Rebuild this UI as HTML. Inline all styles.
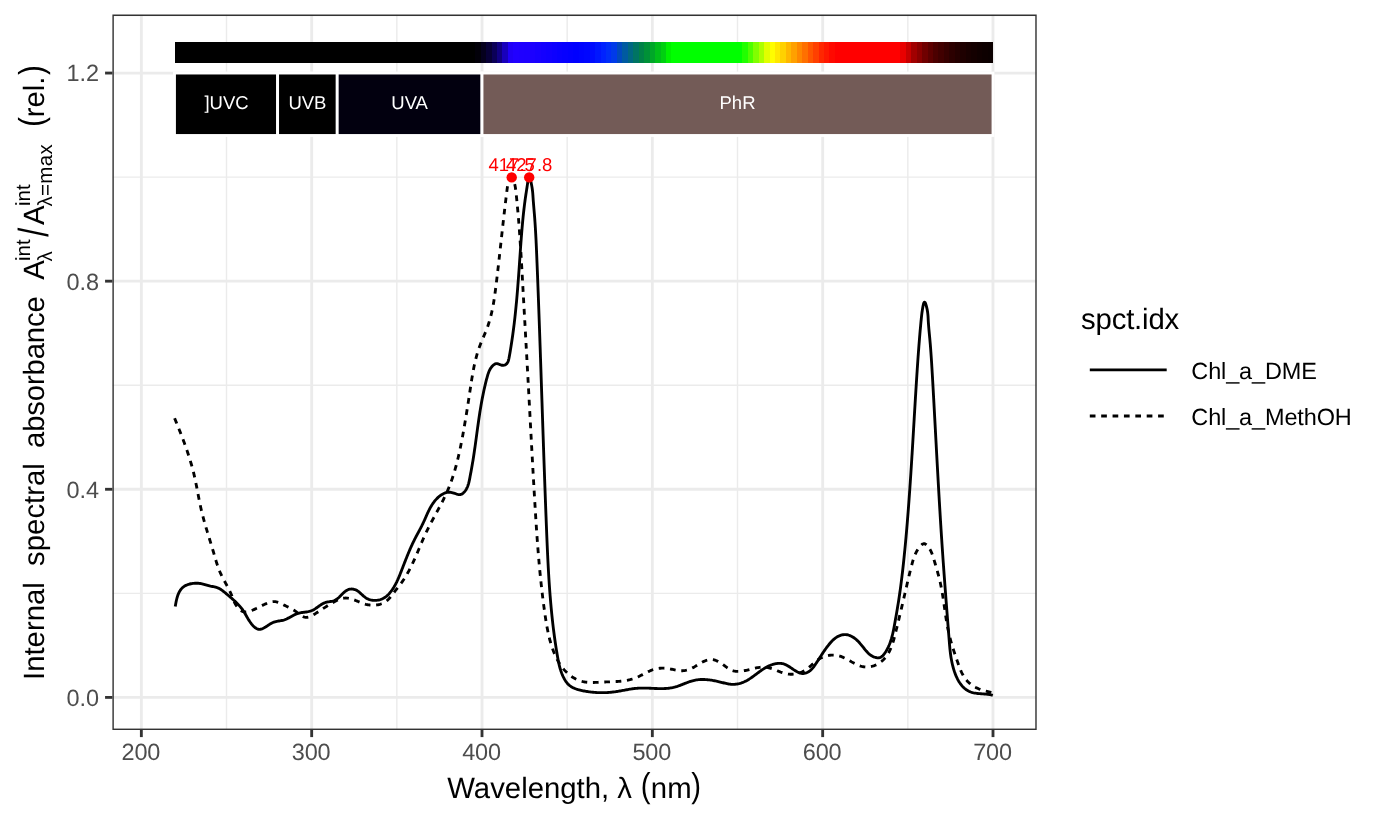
<!DOCTYPE html>
<html lang="en"><head><meta charset="utf-8"><title>Internal spectral absorbance</title>
<style>
html,body{margin:0;padding:0;background:#fff;}
body{width:1382px;height:825px;overflow:hidden;}
svg{display:block;font-family:"Liberation Sans",Arial,Helvetica,sans-serif;}
text{white-space:pre;text-rendering:geometricPrecision;}
.ax{font-size:23.47px;fill:#4D4D4D;}
.ti{font-size:29.33px;fill:#000;}
.lg{font-size:23.47px;fill:#000;}
.wb{font-size:18.5px;fill:#fff;text-anchor:middle;}
.pk{font-size:18.5px;fill:#f00;text-anchor:middle;}
.ss{font-size:20.5px;}
</style></head><body>
<svg width="1382" height="825" viewBox="0 0 1382 825">
<rect width="1382" height="825" fill="#fff"/>
<defs><clipPath id="pc"><rect x="112.4" y="14.6" width="924.3" height="715.4"/></clipPath></defs>
<g clip-path="url(#pc)">
<g stroke="#EBEBEB" stroke-width="1.43" fill="none">
<line x1="112.4" x2="1036.7" y1="593.34" y2="593.34"/>
<line x1="112.4" x2="1036.7" y1="385.22" y2="385.22"/>
<line x1="112.4" x2="1036.7" y1="177.11" y2="177.11"/>
<line x1="226.51" x2="226.51" y1="14.6" y2="730"/>
<line x1="396.85" x2="396.85" y1="14.6" y2="730"/>
<line x1="567.17" x2="567.17" y1="14.6" y2="730"/>
<line x1="737.5" x2="737.5" y1="14.6" y2="730"/>
<line x1="907.84" x2="907.84" y1="14.6" y2="730"/>
</g>
<g stroke="#EBEBEB" stroke-width="2.85" fill="none">
<line x1="112.4" x2="1036.7" y1="697.4" y2="697.4"/>
<line x1="112.4" x2="1036.7" y1="489.28" y2="489.28"/>
<line x1="112.4" x2="1036.7" y1="281.17" y2="281.17"/>
<line x1="112.4" x2="1036.7" y1="73.05" y2="73.05"/>
<line x1="141.35" x2="141.35" y1="14.6" y2="730"/>
<line x1="311.68" x2="311.68" y1="14.6" y2="730"/>
<line x1="482.01" x2="482.01" y1="14.6" y2="730"/>
<line x1="652.34" x2="652.34" y1="14.6" y2="730"/>
<line x1="822.67" x2="822.67" y1="14.6" y2="730"/>
<line x1="993" x2="993" y1="14.6" y2="730"/>
</g>
<g fill="none" stroke="#000" stroke-width="2.85" stroke-linejoin="round">
<path d="M175.23 606.61L175.39 605.68L175.56 604.72L175.73 603.75L175.92 602.76L176.11 601.77L176.32 600.77L176.55 599.76L176.79 598.76L177.05 597.77L177.34 596.78L177.65 595.81L177.99 594.85L178.37 593.91L178.77 592.99L179.21 592.1L179.68 591.24L180.2 590.41L180.76 589.62L181.36 588.87L182.01 588.16L182.71 587.51L183.46 586.9L184.26 586.34L185.1 585.83L185.98 585.37L186.89 584.96L187.83 584.59L188.8 584.27L189.8 583.99L190.81 583.75L191.84 583.56L192.87 583.41L193.92 583.31L194.96 583.24L196.01 583.21L197.05 583.22L198.08 583.27L199.1 583.36L200.1 583.48L201.08 583.64L202.04 583.83L202.98 584.04L203.92 584.28L204.84 584.53L205.77 584.79L206.69 585.06L207.62 585.33L208.56 585.59L209.51 585.85L210.47 586.09L211.46 586.31L212.46 586.51L213.48 586.71L214.49 586.92L215.49 587.16L216.47 587.44L217.41 587.77L218.33 588.15L219.21 588.58L220.08 589.05L220.92 589.56L221.74 590.1L222.54 590.67L223.33 591.27L224.11 591.89L224.88 592.52L225.65 593.17L226.42 593.82L227.18 594.47L227.95 595.13L228.72 595.79L229.49 596.44L230.26 597.1L231.03 597.76L231.79 598.43L232.55 599.09L233.31 599.77L234.06 600.44L234.8 601.12L235.53 601.81L236.26 602.51L236.97 603.21L237.67 603.91L238.36 604.63L239.04 605.36L239.7 606.09L240.34 606.84L240.96 607.59L241.57 608.36L242.16 609.13L242.73 609.92L243.27 610.73L243.8 611.54L244.31 612.37L244.81 613.21L245.31 614.07L245.8 614.93L246.3 615.81L246.81 616.7L247.33 617.6L247.86 618.51L248.42 619.44L249.01 620.37L249.62 621.31L250.26 622.25L250.92 623.17L251.61 624.06L252.32 624.92L253.05 625.74L253.79 626.49L254.56 627.18L255.34 627.79L256.13 628.31L256.94 628.74L257.76 629.05L258.59 629.25L259.43 629.31L260.27 629.26L261.12 629.09L261.98 628.82L262.85 628.46L263.73 628.03L264.61 627.54L265.51 627L266.41 626.43L267.32 625.83L268.24 625.23L269.16 624.63L270.1 624.05L271.04 623.49L272 622.98L272.96 622.53L273.93 622.14L274.91 621.83L275.9 621.57L276.88 621.36L277.87 621.18L278.86 621.01L279.85 620.86L280.83 620.7L281.8 620.52L282.76 620.32L283.71 620.06L284.64 619.76L285.56 619.41L286.47 619.02L287.37 618.6L288.27 618.14L289.16 617.67L290.04 617.19L290.93 616.69L291.82 616.2L292.71 615.71L293.6 615.24L294.5 614.78L295.41 614.36L296.34 613.96L297.27 613.61L298.22 613.3L299.19 613.04L300.16 612.82L301.15 612.65L302.15 612.49L303.16 612.36L304.16 612.23L305.16 612.11L306.16 611.98L307.16 611.83L308.14 611.66L309.12 611.45L310.07 611.2L311.01 610.9L311.93 610.54L312.82 610.13L313.7 609.66L314.57 609.16L315.42 608.62L316.27 608.05L317.11 607.47L317.94 606.88L318.78 606.29L319.62 605.7L320.46 605.12L321.31 604.57L322.17 604.05L323.04 603.57L323.94 603.13L324.85 602.74L325.78 602.42L326.73 602.16L327.71 601.95L328.69 601.78L329.68 601.63L330.67 601.47L331.65 601.3L332.61 601.09L333.55 600.82L334.47 600.48L335.34 600.06L336.19 599.56L337 598.99L337.8 598.37L338.57 597.7L339.33 596.99L340.08 596.25L340.82 595.5L341.56 594.75L342.3 593.99L343.05 593.26L343.81 592.55L344.58 591.88L345.38 591.25L346.19 590.68L347.03 590.18L347.91 589.75L348.82 589.42L349.77 589.18L350.76 589.05L351.77 589.02L352.79 589.09L353.79 589.26L354.76 589.53L355.68 589.88L356.56 590.31L357.41 590.82L358.22 591.38L359.02 591.99L359.79 592.64L360.55 593.32L361.3 594.01L362.05 594.71L362.81 595.41L363.57 596.09L364.35 596.74L365.15 597.36L365.98 597.93L366.84 598.45L367.73 598.9L368.65 599.29L369.6 599.63L370.57 599.9L371.55 600.12L372.55 600.27L373.57 600.37L374.58 600.41L375.6 600.4L376.62 600.33L377.63 600.2L378.64 600.02L379.63 599.79L380.61 599.5L381.56 599.16L382.49 598.77L383.4 598.32L384.27 597.83L385.11 597.29L385.92 596.7L386.7 596.07L387.45 595.4L388.17 594.71L388.87 593.98L389.54 593.23L390.19 592.45L390.82 591.66L391.42 590.86L392.01 590.05L392.58 589.22L393.13 588.39L393.66 587.54L394.17 586.68L394.67 585.82L395.16 584.95L395.63 584.07L396.09 583.18L396.54 582.29L396.97 581.38L397.4 580.48L397.82 579.57L398.22 578.65L398.62 577.73L399.01 576.81L399.4 575.88L399.78 574.95L400.15 574.02L400.52 573.08L400.89 572.15L401.26 571.21L401.62 570.28L401.99 569.34L402.35 568.41L402.71 567.47L403.07 566.54L403.43 565.61L403.79 564.67L404.16 563.74L404.52 562.81L404.88 561.88L405.25 560.94L405.61 560.01L405.98 559.08L406.35 558.16L406.72 557.23L407.09 556.3L407.46 555.38L407.84 554.45L408.22 553.53L408.6 552.61L408.99 551.69L409.38 550.77L409.77 549.85L410.17 548.93L410.57 548.02L410.97 547.1L411.38 546.19L411.8 545.28L412.22 544.38L412.64 543.47L413.07 542.56L413.51 541.66L413.95 540.76L414.4 539.86L414.85 538.97L415.31 538.08L415.78 537.18L416.25 536.29L416.72 535.4L417.19 534.51L417.67 533.63L418.15 532.74L418.62 531.85L419.1 530.96L419.57 530.07L420.04 529.19L420.51 528.3L420.97 527.4L421.43 526.51L421.89 525.62L422.33 524.72L422.77 523.82L423.2 522.92L423.62 522.02L424.04 521.11L424.44 520.2L424.85 519.3L425.25 518.39L425.65 517.48L426.05 516.57L426.45 515.66L426.85 514.76L427.25 513.86L427.67 512.96L428.08 512.06L428.51 511.17L428.95 510.28L429.4 509.39L429.86 508.51L430.33 507.64L430.82 506.78L431.33 505.92L431.85 505.07L432.4 504.23L432.96 503.39L433.55 502.57L434.16 501.75L434.8 500.95L435.46 500.16L436.16 499.38L436.87 498.62L437.61 497.88L438.38 497.16L439.17 496.48L439.97 495.83L440.8 495.22L441.65 494.66L442.51 494.14L443.39 493.68L444.28 493.27L445.19 492.93L446.11 492.65L447.04 492.44L447.98 492.3L448.92 492.25L449.88 492.27L450.84 492.38L451.81 492.56L452.78 492.79L453.77 493.07L454.77 493.39L455.78 493.73L456.79 494.06L457.8 494.36L458.8 494.56L459.78 494.62L460.72 494.5L461.61 494.18L462.46 493.68L463.25 493.06L463.98 492.35L464.65 491.59L465.27 490.81L465.83 489.99L466.35 489.14L466.81 488.27L467.23 487.37L467.62 486.45L467.96 485.51L468.28 484.56L468.57 483.59L468.83 482.6L469.07 481.61L469.29 480.62L469.5 479.61L469.7 478.61L469.89 477.61L470.08 476.6L470.26 475.61L470.45 474.61L470.63 473.62L470.82 472.64L471 471.65L471.18 470.67L471.36 469.69L471.53 468.71L471.71 467.73L471.88 466.75L472.06 465.78L472.23 464.8L472.39 463.83L472.56 462.85L472.72 461.87L472.89 460.89L473.05 459.91L473.2 458.93L473.36 457.95L473.52 456.97L473.67 455.98L473.82 455L473.97 454.01L474.12 453.02L474.26 452.03L474.41 451.04L474.55 450.05L474.7 449.06L474.84 448.07L474.98 447.08L475.12 446.08L475.26 445.09L475.4 444.1L475.54 443.1L475.67 442.11L475.81 441.11L475.94 440.11L476.08 439.12L476.22 438.12L476.35 437.13L476.49 436.13L476.62 435.13L476.75 434.14L476.89 433.14L477.02 432.15L477.16 431.15L477.3 430.15L477.43 429.16L477.57 428.16L477.7 427.17L477.84 426.18L477.98 425.18L478.12 424.19L478.26 423.2L478.4 422.21L478.54 421.22L478.68 420.23L478.83 419.24L478.97 418.25L479.12 417.26L479.27 416.27L479.42 415.29L479.57 414.3L479.72 413.32L479.87 412.33L480.03 411.35L480.19 410.37L480.35 409.39L480.51 408.4L480.67 407.42L480.84 406.44L481 405.46L481.17 404.48L481.35 403.5L481.52 402.52L481.7 401.54L481.88 400.56L482.06 399.58L482.25 398.6L482.44 397.62L482.63 396.64L482.82 395.66L483.02 394.69L483.22 393.71L483.42 392.73L483.63 391.75L483.84 390.77L484.05 389.79L484.27 388.81L484.49 387.83L484.71 386.85L484.94 385.87L485.17 384.89L485.4 383.91L485.64 382.92L485.89 381.94L486.13 380.96L486.38 379.97L486.64 378.99L486.9 378.01L487.16 377.02L487.44 376.04L487.72 375.06L488.03 374.1L488.35 373.14L488.7 372.2L489.08 371.27L489.49 370.37L489.94 369.49L490.43 368.63L490.97 367.81L491.55 367.02L492.2 366.26L492.9 365.54L493.65 364.88L494.47 364.3L495.33 363.86L496.22 363.62L497.14 363.61L498.09 363.84L499.06 364.22L500.06 364.65L501.08 365.03L502.14 365.26L503.2 365.29L504.2 365.16L505.1 364.88L505.87 364.47L506.53 363.95L507.1 363.31L507.57 362.59L507.97 361.78L508.3 360.91L508.58 359.98L508.82 359.01L509.03 358.01L509.22 357L509.4 355.98L509.58 354.96L509.76 353.94L509.94 352.93L510.11 351.91L510.28 350.9L510.45 349.88L510.62 348.87L510.79 347.86L510.95 346.85L511.11 345.84L511.27 344.83L511.42 343.82L511.58 342.82L511.73 341.81L511.88 340.81L512.03 339.8L512.18 338.8L512.32 337.79L512.47 336.79L512.61 335.79L512.75 334.79L512.89 333.79L513.02 332.79L513.16 331.79L513.29 330.79L513.42 329.79L513.55 328.8L513.67 327.8L513.8 326.8L513.92 325.81L514.05 324.81L514.17 323.82L514.29 322.82L514.4 321.83L514.52 320.83L514.63 319.84L514.75 318.85L514.86 317.86L514.97 316.86L515.08 315.87L515.19 314.88L515.29 313.89L515.4 312.9L515.5 311.91L515.6 310.92L515.7 309.93L515.8 308.94L515.9 307.95L516 306.96L516.1 305.97L516.19 304.98L516.28 303.99L516.38 303L516.47 302.01L516.56 301.02L516.65 300.03L516.74 299.04L516.83 298.06L516.91 297.07L517 296.08L517.09 295.09L517.17 294.1L517.25 293.11L517.34 292.12L517.42 291.13L517.5 290.14L517.58 289.15L517.66 288.16L517.74 287.17L517.82 286.18L517.89 285.19L517.97 284.2L518.05 283.21L518.12 282.22L518.2 281.23L518.27 280.23L518.35 279.24L518.42 278.25L518.49 277.26L518.57 276.26L518.64 275.27L518.71 274.27L518.78 273.28L518.85 272.28L518.93 271.29L519 270.29L519.07 269.3L519.14 268.3L519.21 267.3L519.28 266.3L519.35 265.3L519.42 264.3L519.48 263.3L519.55 262.3L519.62 261.3L519.69 260.3L519.76 259.3L519.83 258.29L519.9 257.29L519.97 256.28L520.04 255.28L520.11 254.27L520.18 253.26L520.25 252.26L520.32 251.25L520.39 250.24L520.46 249.24L520.53 248.23L520.6 247.22L520.67 246.21L520.74 245.2L520.82 244.2L520.89 243.19L520.96 242.18L521.04 241.17L521.11 240.16L521.19 239.16L521.26 238.15L521.34 237.14L521.42 236.14L521.5 235.13L521.58 234.12L521.66 233.12L521.74 232.11L521.82 231.11L521.91 230.11L521.99 229.1L522.07 228.1L522.16 227.1L522.25 226.1L522.34 225.1L522.43 224.1L522.52 223.1L522.61 222.11L522.7 221.11L522.8 220.12L522.9 219.12L522.99 218.13L523.09 217.14L523.19 216.15L523.3 215.16L523.4 214.17L523.51 213.19L523.61 212.2L523.72 211.22L523.83 210.24L523.94 209.26L524.06 208.28L524.17 207.31L524.29 206.33L524.41 205.36L524.53 204.39L524.65 203.42L524.78 202.45L524.91 201.49L525.03 200.53L525.17 199.56L525.3 198.61L525.43 197.65L525.57 196.69L525.71 195.74L525.85 194.79L526 193.84L526.15 192.88L526.3 191.9L526.45 190.9L526.61 189.87L526.77 188.81L526.94 187.71L527.12 186.56L527.29 185.36L527.48 184.11L527.67 182.82L527.87 181.56L528.08 180.38L528.31 179.33L528.55 178.48L528.8 177.87L529.07 177.57L529.37 177.62L529.67 178.01L529.99 178.68L530.31 179.59L530.63 180.68L530.93 181.9L531.23 183.18L531.5 184.48L531.74 185.73L531.95 186.93L532.13 188.07L532.29 189.17L532.43 190.22L532.55 191.23L532.65 192.21L532.74 193.17L532.82 194.1L532.89 195.02L532.95 195.93L533.01 196.84L533.07 197.75L533.13 198.67L533.19 199.59L533.26 200.53L533.33 201.48L533.41 202.44L533.49 203.41L533.56 204.38L533.65 205.36L533.73 206.35L533.81 207.34L533.9 208.34L533.98 209.35L534.06 210.35L534.15 211.36L534.23 212.37L534.32 213.39L534.4 214.4L534.48 215.41L534.56 216.43L534.64 217.44L534.72 218.45L534.79 219.46L534.86 220.47L534.93 221.48L535.01 222.49L535.07 223.5L535.14 224.51L535.21 225.52L535.27 226.52L535.34 227.53L535.4 228.54L535.46 229.54L535.52 230.55L535.58 231.55L535.63 232.56L535.69 233.56L535.75 234.56L535.8 235.57L535.85 236.57L535.91 237.57L535.96 238.57L536.01 239.58L536.06 240.58L536.11 241.58L536.15 242.58L536.2 243.58L536.25 244.58L536.29 245.58L536.34 246.58L536.38 247.58L536.43 248.58L536.47 249.58L536.52 250.58L536.56 251.58L536.6 252.58L536.64 253.58L536.69 254.58L536.73 255.57L536.77 256.57L536.81 257.57L536.85 258.57L536.89 259.57L536.93 260.57L536.97 261.57L537.01 262.57L537.05 263.56L537.09 264.56L537.13 265.56L537.17 266.56L537.21 267.56L537.25 268.56L537.29 269.56L537.33 270.56L537.37 271.55L537.41 272.55L537.45 273.55L537.49 274.55L537.53 275.55L537.57 276.55L537.61 277.55L537.64 278.55L537.68 279.55L537.72 280.54L537.76 281.54L537.8 282.54L537.84 283.54L537.87 284.54L537.91 285.54L537.95 286.54L537.99 287.54L538.03 288.54L538.06 289.54L538.1 290.54L538.14 291.53L538.18 292.53L538.22 293.53L538.25 294.53L538.29 295.53L538.33 296.53L538.36 297.53L538.4 298.53L538.44 299.53L538.48 300.53L538.51 301.53L538.55 302.53L538.59 303.53L538.62 304.52L538.66 305.52L538.7 306.52L538.73 307.52L538.77 308.52L538.81 309.52L538.84 310.52L538.88 311.52L538.91 312.52L538.95 313.52L538.99 314.52L539.02 315.52L539.06 316.52L539.09 317.52L539.13 318.52L539.17 319.52L539.2 320.52L539.24 321.51L539.27 322.51L539.31 323.51L539.34 324.51L539.38 325.51L539.42 326.51L539.45 327.51L539.49 328.51L539.52 329.51L539.56 330.51L539.59 331.51L539.63 332.51L539.66 333.51L539.7 334.51L539.73 335.51L539.77 336.51L539.8 337.51L539.84 338.51L539.87 339.51L539.9 340.51L539.94 341.51L539.97 342.51L540.01 343.51L540.04 344.51L540.08 345.51L540.11 346.51L540.15 347.51L540.18 348.51L540.22 349.51L540.25 350.51L540.28 351.5L540.32 352.5L540.35 353.5L540.39 354.5L540.42 355.5L540.45 356.5L540.49 357.5L540.52 358.5L540.56 359.5L540.59 360.5L540.62 361.5L540.66 362.5L540.69 363.5L540.73 364.5L540.76 365.5L540.79 366.5L540.83 367.5L540.86 368.5L540.9 369.5L540.93 370.5L540.96 371.5L541 372.5L541.03 373.5L541.06 374.5L541.1 375.5L541.13 376.5L541.16 377.5L541.2 378.5L541.23 379.5L541.27 380.5L541.3 381.5L541.33 382.5L541.37 383.5L541.4 384.5L541.43 385.5L541.47 386.5L541.5 387.5L541.53 388.5L541.57 389.5L541.6 390.5L541.63 391.5L541.67 392.5L541.7 393.5L541.73 394.5L541.77 395.5L541.8 396.5L541.83 397.5L541.87 398.5L541.9 399.5L541.93 400.5L541.97 401.51L542 402.51L542.04 403.51L542.07 404.51L542.1 405.51L542.14 406.51L542.17 407.51L542.2 408.51L542.24 409.51L542.27 410.51L542.3 411.51L542.34 412.51L542.37 413.51L542.4 414.51L542.44 415.51L542.47 416.51L542.5 417.51L542.54 418.51L542.57 419.51L542.61 420.51L542.64 421.51L542.67 422.51L542.71 423.51L542.74 424.51L542.77 425.51L542.81 426.51L542.84 427.51L542.88 428.51L542.91 429.51L542.94 430.51L542.98 431.51L543.01 432.51L543.04 433.51L543.08 434.51L543.11 435.51L543.15 436.51L543.18 437.51L543.21 438.51L543.25 439.51L543.28 440.51L543.32 441.52L543.35 442.52L543.39 443.52L543.42 444.52L543.45 445.52L543.49 446.52L543.52 447.52L543.56 448.52L543.59 449.52L543.63 450.52L543.66 451.52L543.7 452.52L543.73 453.52L543.76 454.52L543.8 455.52L543.83 456.52L543.87 457.52L543.9 458.52L543.94 459.52L543.97 460.52L544.01 461.52L544.04 462.52L544.08 463.52L544.11 464.52L544.15 465.52L544.18 466.52L544.22 467.52L544.25 468.52L544.29 469.52L544.33 470.53L544.36 471.53L544.4 472.53L544.43 473.53L544.47 474.53L544.5 475.53L544.54 476.53L544.58 477.53L544.61 478.53L544.65 479.53L544.68 480.53L544.72 481.53L544.76 482.53L544.79 483.53L544.83 484.53L544.86 485.53L544.9 486.53L544.94 487.53L544.97 488.53L545.01 489.53L545.05 490.53L545.08 491.53L545.12 492.53L545.16 493.53L545.19 494.53L545.23 495.53L545.27 496.53L545.31 497.54L545.34 498.54L545.38 499.54L545.42 500.54L545.46 501.54L545.49 502.54L545.53 503.54L545.57 504.54L545.61 505.54L545.64 506.54L545.68 507.54L545.72 508.54L545.76 509.54L545.8 510.54L545.83 511.54L545.87 512.54L545.91 513.54L545.95 514.54L545.99 515.54L546.03 516.54L546.07 517.54L546.11 518.54L546.14 519.54L546.18 520.54L546.22 521.54L546.26 522.54L546.3 523.54L546.34 524.54L546.38 525.54L546.42 526.54L546.46 527.54L546.5 528.55L546.54 529.55L546.58 530.55L546.62 531.55L546.66 532.55L546.7 533.55L546.74 534.55L546.78 535.55L546.82 536.55L546.86 537.55L546.91 538.55L546.95 539.55L546.99 540.55L547.03 541.55L547.07 542.55L547.12 543.55L547.16 544.55L547.2 545.55L547.25 546.55L547.29 547.55L547.34 548.55L547.38 549.55L547.43 550.55L547.47 551.55L547.52 552.55L547.56 553.55L547.61 554.55L547.66 555.55L547.71 556.55L547.75 557.55L547.8 558.55L547.85 559.55L547.9 560.54L547.95 561.54L548 562.54L548.06 563.54L548.11 564.54L548.16 565.54L548.21 566.54L548.27 567.54L548.32 568.54L548.38 569.54L548.44 570.54L548.49 571.53L548.55 572.53L548.61 573.53L548.67 574.53L548.73 575.53L548.79 576.53L548.85 577.53L548.91 578.52L548.97 579.52L549.04 580.52L549.1 581.52L549.17 582.52L549.23 583.52L549.3 584.51L549.37 585.51L549.44 586.51L549.51 587.51L549.58 588.5L549.65 589.5L549.72 590.5L549.8 591.5L549.87 592.49L549.95 593.49L550.03 594.49L550.1 595.48L550.18 596.48L550.26 597.48L550.35 598.47L550.43 599.47L550.51 600.47L550.6 601.46L550.68 602.46L550.77 603.45L550.86 604.45L550.95 605.45L551.04 606.44L551.13 607.44L551.22 608.43L551.32 609.43L551.41 610.42L551.51 611.42L551.61 612.41L551.7 613.41L551.81 614.4L551.91 615.4L552.01 616.39L552.12 617.38L552.22 618.38L552.33 619.37L552.44 620.37L552.55 621.36L552.66 622.35L552.77 623.35L552.89 624.34L553 625.33L553.12 626.33L553.24 627.32L553.36 628.31L553.48 629.3L553.61 630.3L553.73 631.29L553.86 632.28L553.99 633.27L554.12 634.26L554.25 635.26L554.38 636.25L554.52 637.24L554.66 638.23L554.79 639.22L554.94 640.21L555.08 641.2L555.22 642.19L555.37 643.18L555.51 644.17L555.66 645.16L555.81 646.15L555.97 647.14L556.12 648.13L556.28 649.12L556.43 650.11L556.59 651.1L556.76 652.09L556.92 653.07L557.08 654.06L557.25 655.05L557.42 656.04L557.59 657.03L557.77 658.01L557.95 659L558.13 659.98L558.33 660.97L558.53 661.95L558.73 662.93L558.95 663.9L559.17 664.88L559.41 665.85L559.66 666.82L559.92 667.78L560.2 668.74L560.49 669.7L560.79 670.66L561.12 671.61L561.45 672.55L561.81 673.49L562.19 674.42L562.59 675.35L563 676.27L563.44 677.19L563.91 678.1L564.39 679L564.91 679.89L565.45 680.76L566.01 681.61L566.61 682.42L567.24 683.2L567.91 683.94L568.61 684.64L569.34 685.28L570.11 685.88L570.9 686.44L571.73 686.95L572.58 687.43L573.46 687.87L574.36 688.28L575.28 688.65L576.22 689L577.17 689.31L578.13 689.61L579.11 689.88L580.09 690.13L581.08 690.37L582.07 690.59L583.07 690.79L584.07 690.99L585.06 691.18L586.06 691.35L587.06 691.52L588.06 691.67L589.06 691.81L590.05 691.95L591.05 692.07L592.05 692.18L593.05 692.28L594.05 692.37L595.05 692.45L596.05 692.51L597.04 692.57L598.04 692.62L599.04 692.65L600.04 692.68L601.04 692.69L602.03 692.7L603.03 692.69L604.03 692.67L605.02 692.64L606.02 692.61L607.01 692.56L608.01 692.5L609 692.43L610 692.35L610.99 692.26L611.98 692.15L612.97 692.04L613.96 691.92L614.95 691.79L615.94 691.64L616.93 691.49L617.91 691.33L618.9 691.17L619.89 691L620.87 690.82L621.86 690.64L622.84 690.46L623.83 690.28L624.81 690.09L625.8 689.91L626.79 689.73L627.77 689.56L628.76 689.39L629.75 689.22L630.74 689.06L631.73 688.91L632.72 688.77L633.71 688.64L634.7 688.52L635.7 688.41L636.69 688.32L637.69 688.24L638.69 688.18L639.69 688.13L640.69 688.09L641.7 688.07L642.7 688.06L643.71 688.07L644.71 688.08L645.72 688.1L646.73 688.12L647.73 688.16L648.74 688.2L649.75 688.24L650.76 688.28L651.77 688.33L652.77 688.38L653.78 688.42L654.79 688.47L655.79 688.51L656.8 688.54L657.8 688.57L658.8 688.6L659.8 688.62L660.8 688.62L661.8 688.62L662.79 688.61L663.78 688.58L664.77 688.54L665.76 688.49L666.75 688.42L667.73 688.33L668.71 688.23L669.68 688.11L670.66 687.96L671.63 687.8L672.59 687.61L673.56 687.4L674.51 687.16L675.47 686.9L676.42 686.61L677.37 686.31L678.32 685.98L679.26 685.65L680.2 685.3L681.14 684.94L682.08 684.57L683.03 684.2L683.97 683.82L684.91 683.45L685.85 683.08L686.79 682.71L687.74 682.36L688.69 682.01L689.64 681.68L690.6 681.36L691.55 681.06L692.52 680.79L693.49 680.53L694.46 680.31L695.44 680.11L696.42 679.94L697.41 679.8L698.41 679.68L699.4 679.59L700.4 679.53L701.4 679.49L702.41 679.47L703.42 679.48L704.42 679.51L705.43 679.55L706.44 679.62L707.44 679.71L708.45 679.81L709.45 679.93L710.45 680.06L711.45 680.21L712.44 680.38L713.43 680.55L714.41 680.74L715.39 680.94L716.37 681.15L717.34 681.37L718.31 681.59L719.28 681.82L720.25 682.05L721.21 682.29L722.17 682.53L723.14 682.76L724.1 683L725.07 683.23L726.03 683.45L727 683.66L727.97 683.85L728.95 684.02L729.93 684.16L730.92 684.26L731.92 684.33L732.92 684.36L733.93 684.34L734.95 684.28L735.98 684.17L737 684.02L738.03 683.83L739.04 683.6L740.04 683.33L741.02 683.03L741.99 682.7L742.93 682.34L743.86 681.96L744.76 681.55L745.66 681.11L746.54 680.66L747.4 680.18L748.25 679.68L749.09 679.17L749.92 678.64L750.74 678.09L751.56 677.54L752.37 676.97L753.17 676.4L753.97 675.81L754.76 675.22L755.56 674.63L756.35 674.03L757.15 673.44L757.94 672.84L758.74 672.25L759.55 671.66L760.36 671.07L761.17 670.5L762 669.93L762.83 669.37L763.67 668.83L764.53 668.29L765.4 667.78L766.28 667.28L767.18 666.8L768.09 666.34L769.02 665.9L769.97 665.49L770.93 665.1L771.9 664.75L772.88 664.43L773.87 664.14L774.87 663.9L775.86 663.69L776.86 663.54L777.85 663.43L778.84 663.37L779.82 663.36L780.79 663.41L781.75 663.53L782.7 663.7L783.62 663.94L784.53 664.25L785.43 664.61L786.31 665.02L787.18 665.47L788.05 665.96L788.91 666.49L789.76 667.03L790.61 667.6L791.46 668.18L792.31 668.76L793.17 669.34L794.03 669.92L794.91 670.48L795.79 671.02L796.68 671.54L797.59 672.02L798.5 672.45L799.43 672.82L800.38 673.13L801.33 673.35L802.29 673.48L803.26 673.5L804.24 673.41L805.21 673.21L806.18 672.91L807.13 672.52L808.05 672.05L808.93 671.51L809.76 670.92L810.54 670.28L811.28 669.6L811.98 668.88L812.64 668.12L813.27 667.35L813.88 666.55L814.47 665.73L815.05 664.91L815.61 664.07L816.18 663.24L816.74 662.4L817.29 661.57L817.84 660.72L818.38 659.88L818.93 659.04L819.47 658.2L820.01 657.35L820.55 656.51L821.09 655.67L821.63 654.83L822.18 653.99L822.73 653.15L823.28 652.32L823.83 651.49L824.39 650.66L824.96 649.84L825.53 649.03L826.11 648.21L826.7 647.41L827.3 646.61L827.91 645.81L828.53 645.03L829.16 644.25L829.8 643.48L830.45 642.72L831.12 641.97L831.81 641.23L832.51 640.52L833.24 639.83L833.99 639.17L834.77 638.53L835.57 637.93L836.41 637.36L837.28 636.83L838.18 636.35L839.11 635.92L840.06 635.53L841.03 635.21L842.01 634.95L843.01 634.76L844.01 634.64L845.01 634.6L846.01 634.65L847.01 634.77L847.99 634.97L848.96 635.25L849.92 635.59L850.86 635.98L851.77 636.43L852.65 636.93L853.51 637.46L854.34 638.03L855.14 638.64L855.91 639.27L856.66 639.93L857.39 640.62L858.1 641.33L858.8 642.06L859.48 642.81L860.14 643.57L860.8 644.34L861.44 645.12L862.08 645.9L862.71 646.69L863.35 647.47L863.98 648.26L864.61 649.04L865.24 649.81L865.88 650.57L866.53 651.31L867.19 652.04L867.86 652.75L868.55 653.43L869.26 654.09L870.01 654.71L870.8 655.3L871.64 655.85L872.54 656.35L873.52 656.8L874.56 657.19L875.64 657.5L876.73 657.71L877.81 657.81L878.85 657.76L879.82 657.57L880.71 657.22L881.52 656.73L882.27 656.14L882.97 655.45L883.62 654.7L884.23 653.9L884.82 653.08L885.38 652.25L885.92 651.41L886.43 650.55L886.93 649.69L887.4 648.81L887.85 647.93L888.29 647.03L888.7 646.13L889.1 645.22L889.48 644.3L889.84 643.37L890.19 642.44L890.52 641.5L890.84 640.55L891.14 639.59L891.44 638.63L891.71 637.67L891.98 636.7L892.24 635.72L892.48 634.74L892.72 633.76L892.94 632.78L893.16 631.79L893.37 630.8L893.58 629.8L893.77 628.81L893.97 627.81L894.16 626.82L894.34 625.82L894.52 624.82L894.7 623.83L894.88 622.83L895.05 621.84L895.23 620.84L895.4 619.85L895.57 618.86L895.75 617.88L895.92 616.89L896.09 615.9L896.26 614.92L896.44 613.93L896.61 612.95L896.77 611.97L896.94 610.99L897.11 610.01L897.28 609.03L897.44 608.05L897.6 607.07L897.77 606.09L897.93 605.1L898.09 604.12L898.24 603.14L898.4 602.16L898.56 601.18L898.71 600.2L898.86 599.21L899.01 598.23L899.16 597.24L899.31 596.26L899.45 595.27L899.6 594.29L899.74 593.3L899.88 592.31L900.02 591.32L900.16 590.33L900.3 589.34L900.43 588.35L900.56 587.36L900.7 586.37L900.83 585.38L900.96 584.39L901.09 583.4L901.22 582.41L901.34 581.41L901.47 580.42L901.59 579.43L901.71 578.43L901.84 577.44L901.96 576.44L902.08 575.45L902.19 574.45L902.31 573.46L902.43 572.46L902.54 571.47L902.66 570.47L902.77 569.47L902.88 568.48L902.99 567.48L903.1 566.48L903.21 565.48L903.32 564.49L903.43 563.49L903.53 562.49L903.64 561.49L903.75 560.5L903.85 559.5L903.95 558.5L904.06 557.5L904.16 556.5L904.26 555.51L904.36 554.51L904.46 553.51L904.56 552.51L904.66 551.51L904.76 550.52L904.85 549.52L904.95 548.52L905.05 547.52L905.14 546.52L905.24 545.53L905.33 544.53L905.42 543.53L905.52 542.53L905.61 541.53L905.7 540.54L905.79 539.54L905.89 538.54L905.98 537.54L906.07 536.55L906.15 535.55L906.24 534.55L906.33 533.55L906.42 532.56L906.51 531.56L906.59 530.56L906.68 529.56L906.77 528.57L906.85 527.57L906.93 526.57L907.02 525.58L907.1 524.58L907.19 523.58L907.27 522.58L907.35 521.59L907.43 520.59L907.51 519.59L907.59 518.6L907.67 517.6L907.75 516.6L907.83 515.6L907.91 514.61L907.99 513.61L908.07 512.61L908.15 511.62L908.22 510.62L908.3 509.62L908.38 508.63L908.45 507.63L908.53 506.63L908.6 505.63L908.68 504.64L908.75 503.64L908.83 502.64L908.9 501.65L908.98 500.65L909.05 499.65L909.12 498.66L909.19 497.66L909.26 496.66L909.34 495.67L909.41 494.67L909.48 493.67L909.55 492.67L909.62 491.68L909.69 490.68L909.76 489.68L909.83 488.69L909.9 487.69L909.96 486.69L910.03 485.7L910.1 484.7L910.17 483.7L910.24 482.71L910.3 481.71L910.37 480.71L910.44 479.71L910.5 478.72L910.57 477.72L910.63 476.72L910.7 475.73L910.77 474.73L910.83 473.73L910.9 472.74L910.96 471.74L911.02 470.74L911.09 469.74L911.15 468.75L911.22 467.75L911.28 466.75L911.34 465.76L911.41 464.76L911.47 463.76L911.53 462.76L911.59 461.77L911.66 460.77L911.72 459.77L911.78 458.77L911.84 457.78L911.9 456.78L911.96 455.78L912.03 454.78L912.09 453.79L912.15 452.79L912.21 451.79L912.27 450.79L912.33 449.8L912.39 448.8L912.45 447.8L912.51 446.8L912.57 445.8L912.63 444.81L912.69 443.81L912.75 442.81L912.81 441.81L912.87 440.82L912.93 439.82L912.99 438.82L913.05 437.82L913.11 436.82L913.17 435.82L913.23 434.83L913.29 433.83L913.35 432.83L913.41 431.83L913.47 430.83L913.53 429.83L913.58 428.83L913.64 427.84L913.7 426.84L913.76 425.84L913.82 424.84L913.88 423.84L913.94 422.84L914 421.84L914.06 420.84L914.12 419.84L914.18 418.85L914.23 417.85L914.29 416.85L914.35 415.85L914.41 414.85L914.47 413.85L914.53 412.85L914.59 411.85L914.65 410.85L914.71 409.85L914.77 408.85L914.83 407.85L914.89 406.85L914.95 405.85L915.01 404.85L915.07 403.85L915.13 402.85L915.19 401.85L915.25 400.85L915.31 399.85L915.37 398.85L915.43 397.85L915.49 396.85L915.55 395.85L915.62 394.85L915.68 393.84L915.74 392.84L915.8 391.84L915.86 390.84L915.92 389.84L915.99 388.84L916.05 387.84L916.11 386.84L916.17 385.83L916.24 384.83L916.3 383.83L916.36 382.83L916.43 381.83L916.49 380.83L916.56 379.82L916.62 378.82L916.68 377.82L916.75 376.82L916.81 375.81L916.88 374.81L916.94 373.81L917.01 372.81L917.08 371.8L917.14 370.8L917.21 369.8L917.27 368.79L917.34 367.79L917.41 366.79L917.48 365.79L917.54 364.78L917.61 363.78L917.68 362.78L917.75 361.78L917.82 360.77L917.89 359.77L917.96 358.77L918.03 357.77L918.1 356.77L918.17 355.77L918.25 354.77L918.32 353.77L918.39 352.77L918.46 351.77L918.54 350.77L918.61 349.78L918.69 348.78L918.76 347.78L918.84 346.79L918.91 345.79L918.99 344.8L919.07 343.81L919.15 342.81L919.23 341.82L919.31 340.83L919.39 339.84L919.47 338.85L919.55 337.86L919.63 336.87L919.71 335.89L919.8 334.9L919.88 333.92L919.96 332.93L920.05 331.95L920.13 330.97L920.22 329.99L920.31 329.01L920.4 328.03L920.49 327.05L920.58 326.08L920.67 325.1L920.76 324.13L920.85 323.16L920.94 322.19L921.04 321.22L921.13 320.25L921.23 319.28L921.32 318.32L921.42 317.35L921.53 316.37L921.64 315.38L921.76 314.38L921.88 313.35L922.02 312.31L922.18 311.23L922.34 310.13L922.52 308.99L922.72 307.81L922.94 306.59L923.18 305.37L923.44 304.24L923.72 303.26L924.02 302.53L924.35 302.12L924.7 302.11L925.06 302.5L925.44 303.23L925.81 304.21L926.17 305.35L926.5 306.58L926.8 307.82L927.06 309L927.28 310.14L927.47 311.24L927.62 312.29L927.75 313.31L927.86 314.31L927.95 315.27L928.02 316.22L928.08 317.16L928.13 318.09L928.18 319.01L928.22 319.93L928.27 320.86L928.33 321.8L928.39 322.74L928.45 323.7L928.52 324.66L928.6 325.63L928.68 326.61L928.76 327.59L928.85 328.58L928.94 329.58L929.03 330.58L929.12 331.58L929.22 332.58L929.31 333.59L929.41 334.6L929.5 335.61L929.6 336.63L929.69 337.64L929.79 338.65L929.88 339.66L929.97 340.67L930.05 341.68L930.14 342.69L930.23 343.7L930.31 344.71L930.39 345.71L930.47 346.72L930.55 347.72L930.63 348.73L930.71 349.73L930.78 350.74L930.85 351.74L930.93 352.74L931 353.75L931.07 354.75L931.14 355.75L931.21 356.75L931.28 357.75L931.35 358.75L931.41 359.75L931.48 360.75L931.54 361.75L931.61 362.75L931.67 363.75L931.73 364.74L931.79 365.74L931.85 366.74L931.91 367.74L931.97 368.73L932.03 369.73L932.09 370.73L932.15 371.73L932.21 372.72L932.27 373.72L932.33 374.72L932.38 375.71L932.44 376.71L932.5 377.71L932.55 378.7L932.61 379.7L932.67 380.7L932.72 381.69L932.78 382.69L932.84 383.69L932.89 384.68L932.95 385.68L933 386.68L933.06 387.68L933.12 388.67L933.17 389.67L933.23 390.67L933.28 391.66L933.34 392.66L933.39 393.66L933.45 394.66L933.51 395.65L933.56 396.65L933.62 397.65L933.67 398.65L933.73 399.65L933.78 400.64L933.84 401.64L933.89 402.64L933.95 403.64L934 404.64L934.05 405.63L934.11 406.63L934.16 407.63L934.22 408.63L934.27 409.63L934.33 410.62L934.38 411.62L934.44 412.62L934.49 413.62L934.54 414.62L934.6 415.62L934.65 416.61L934.71 417.61L934.76 418.61L934.82 419.61L934.87 420.61L934.92 421.61L934.98 422.61L935.03 423.61L935.09 424.6L935.14 425.6L935.19 426.6L935.25 427.6L935.3 428.6L935.36 429.6L935.41 430.6L935.46 431.6L935.52 432.6L935.57 433.59L935.63 434.59L935.68 435.59L935.73 436.59L935.79 437.59L935.84 438.59L935.89 439.59L935.95 440.59L936 441.59L936.06 442.59L936.11 443.59L936.17 444.59L936.22 445.58L936.27 446.58L936.33 447.58L936.38 448.58L936.44 449.58L936.49 450.58L936.54 451.58L936.6 452.58L936.65 453.58L936.71 454.58L936.76 455.58L936.82 456.58L936.87 457.58L936.93 458.58L936.98 459.58L937.04 460.58L937.09 461.58L937.14 462.58L937.2 463.58L937.25 464.57L937.31 465.57L937.36 466.57L937.42 467.57L937.48 468.57L937.53 469.57L937.59 470.57L937.64 471.57L937.7 472.57L937.75 473.57L937.81 474.57L937.86 475.57L937.92 476.57L937.98 477.57L938.03 478.57L938.09 479.57L938.14 480.57L938.2 481.57L938.26 482.57L938.31 483.57L938.37 484.57L938.43 485.57L938.48 486.57L938.54 487.57L938.6 488.57L938.66 489.57L938.71 490.57L938.77 491.56L938.83 492.56L938.89 493.56L938.94 494.56L939 495.56L939.06 496.56L939.12 497.56L939.18 498.56L939.23 499.56L939.29 500.56L939.35 501.56L939.41 502.56L939.47 503.56L939.53 504.56L939.59 505.56L939.65 506.56L939.71 507.56L939.77 508.56L939.83 509.56L939.89 510.56L939.95 511.55L940.01 512.55L940.07 513.55L940.13 514.55L940.19 515.55L940.25 516.55L940.31 517.55L940.37 518.55L940.43 519.55L940.49 520.55L940.56 521.55L940.62 522.55L940.68 523.54L940.74 524.54L940.81 525.54L940.87 526.54L940.93 527.54L940.99 528.54L941.06 529.54L941.12 530.54L941.18 531.54L941.25 532.54L941.31 533.53L941.38 534.53L941.44 535.53L941.51 536.53L941.57 537.53L941.64 538.53L941.7 539.53L941.77 540.52L941.83 541.52L941.9 542.52L941.96 543.52L942.03 544.52L942.1 545.52L942.16 546.52L942.23 547.51L942.3 548.51L942.37 549.51L942.43 550.51L942.5 551.51L942.57 552.5L942.64 553.5L942.71 554.5L942.78 555.5L942.85 556.5L942.91 557.49L942.98 558.49L943.05 559.49L943.12 560.49L943.19 561.49L943.26 562.48L943.34 563.48L943.41 564.48L943.48 565.48L943.55 566.47L943.62 567.47L943.69 568.47L943.76 569.47L943.83 570.46L943.91 571.46L943.98 572.46L944.05 573.46L944.12 574.45L944.2 575.45L944.27 576.45L944.34 577.45L944.42 578.44L944.49 579.44L944.56 580.44L944.64 581.44L944.71 582.43L944.79 583.43L944.86 584.43L944.93 585.43L945.01 586.42L945.08 587.42L945.16 588.42L945.23 589.42L945.31 590.41L945.38 591.41L945.46 592.41L945.54 593.41L945.61 594.4L945.69 595.4L945.76 596.4L945.84 597.4L945.92 598.39L945.99 599.39L946.07 600.39L946.14 601.39L946.22 602.38L946.3 603.38L946.38 604.38L946.45 605.38L946.53 606.37L946.61 607.37L946.68 608.37L946.76 609.37L946.84 610.36L946.92 611.36L946.99 612.36L947.07 613.36L947.15 614.35L947.23 615.35L947.31 616.35L947.38 617.35L947.46 618.35L947.54 619.34L947.62 620.34L947.7 621.34L947.78 622.34L947.85 623.34L947.93 624.33L948.01 625.33L948.09 626.33L948.17 627.33L948.25 628.33L948.33 629.33L948.41 630.32L948.49 631.32L948.57 632.32L948.64 633.32L948.72 634.32L948.8 635.32L948.88 636.32L948.96 637.31L949.04 638.31L949.12 639.31L949.2 640.31L949.28 641.31L949.36 642.31L949.44 643.31L949.52 644.3L949.61 645.3L949.7 646.3L949.79 647.29L949.88 648.29L949.98 649.28L950.09 650.27L950.19 651.26L950.31 652.25L950.43 653.24L950.56 654.23L950.69 655.21L950.83 656.19L950.98 657.17L951.14 658.15L951.31 659.12L951.48 660.1L951.67 661.07L951.86 662.04L952.07 663.02L952.29 663.99L952.52 664.96L952.76 665.94L953.02 666.91L953.28 667.88L953.56 668.86L953.86 669.84L954.17 670.81L954.49 671.79L954.84 672.76L955.19 673.73L955.56 674.69L955.95 675.65L956.36 676.59L956.79 677.53L957.23 678.45L957.69 679.36L958.17 680.25L958.67 681.13L959.2 681.99L959.74 682.82L960.3 683.64L960.89 684.44L961.5 685.21L962.13 685.95L962.78 686.67L963.46 687.36L964.17 688.02L964.89 688.64L965.65 689.24L966.43 689.8L967.23 690.32L968.06 690.8L968.92 691.24L969.81 691.65L970.73 692.01L971.67 692.32L972.64 692.6L973.64 692.84L974.65 693.04L975.68 693.21L976.73 693.36L977.78 693.48L978.85 693.59L979.92 693.68L980.99 693.76L982.06 693.83L983.12 693.91L984.17 693.98L985.22 694.05L986.25 694.14L987.26 694.24L988.25 694.35L989.22 694.48L990.16 694.64L991.07 694.83L991.95 695.05L992.79 695.3"/>
<path stroke-dasharray="5.69 5.69" d="M174.58 418.18L174.96 419.1L175.34 420.02L175.71 420.94L176.09 421.87L176.47 422.79L176.85 423.71L177.22 424.64L177.6 425.57L177.97 426.49L178.34 427.42L178.71 428.35L179.08 429.28L179.45 430.21L179.82 431.14L180.19 432.07L180.55 433L180.92 433.93L181.28 434.87L181.64 435.8L182 436.74L182.35 437.67L182.71 438.61L183.06 439.55L183.41 440.48L183.76 441.42L184.11 442.36L184.45 443.3L184.79 444.25L185.13 445.19L185.47 446.13L185.8 447.08L186.14 448.02L186.47 448.97L186.79 449.91L187.12 450.86L187.44 451.81L187.76 452.76L188.07 453.71L188.38 454.66L188.69 455.61L189 456.57L189.3 457.52L189.6 458.48L189.9 459.43L190.19 460.39L190.48 461.35L190.76 462.31L191.04 463.27L191.32 464.23L191.59 465.19L191.86 466.16L192.13 467.12L192.39 468.09L192.65 469.05L192.91 470.02L193.15 470.99L193.4 471.96L193.64 472.93L193.88 473.9L194.11 474.88L194.34 475.85L194.56 476.83L194.78 477.8L194.99 478.78L195.21 479.76L195.41 480.74L195.62 481.72L195.82 482.7L196.02 483.68L196.22 484.67L196.42 485.65L196.61 486.63L196.8 487.61L196.99 488.6L197.18 489.58L197.37 490.57L197.56 491.55L197.75 492.53L197.94 493.52L198.12 494.5L198.31 495.49L198.5 496.47L198.69 497.45L198.88 498.44L199.08 499.42L199.27 500.4L199.47 501.38L199.67 502.36L199.87 503.34L200.07 504.32L200.28 505.3L200.49 506.28L200.7 507.26L200.92 508.23L201.14 509.21L201.36 510.18L201.59 511.15L201.83 512.12L202.07 513.09L202.31 514.06L202.55 515.03L202.8 516L203.06 516.96L203.31 517.93L203.57 518.89L203.83 519.86L204.1 520.82L204.37 521.78L204.64 522.74L204.91 523.71L205.19 524.67L205.47 525.63L205.75 526.58L206.03 527.54L206.31 528.5L206.6 529.46L206.89 530.42L207.18 531.38L207.47 532.33L207.76 533.29L208.05 534.25L208.34 535.2L208.63 536.16L208.93 537.12L209.22 538.07L209.52 539.03L209.81 539.99L210.1 540.94L210.4 541.9L210.69 542.86L210.98 543.82L211.28 544.77L211.57 545.73L211.86 546.69L212.15 547.65L212.44 548.61L212.72 549.57L213.01 550.53L213.29 551.49L213.57 552.46L213.85 553.42L214.13 554.38L214.41 555.35L214.69 556.31L214.97 557.27L215.25 558.23L215.53 559.2L215.82 560.16L216.11 561.11L216.4 562.07L216.7 563.02L217.01 563.98L217.32 564.93L217.64 565.87L217.97 566.82L218.3 567.76L218.65 568.69L219.01 569.63L219.37 570.55L219.75 571.48L220.14 572.4L220.55 573.31L220.96 574.22L221.39 575.12L221.83 576.02L222.28 576.92L222.74 577.81L223.2 578.7L223.67 579.58L224.15 580.47L224.63 581.35L225.11 582.23L225.59 583.11L226.08 583.99L226.56 584.87L227.03 585.76L227.51 586.64L227.98 587.52L228.44 588.41L228.89 589.29L229.34 590.18L229.77 591.08L230.19 591.98L230.6 592.88L231 593.78L231.38 594.7L231.75 595.61L232.1 596.53L232.46 597.46L232.81 598.38L233.18 599.31L233.55 600.24L233.95 601.16L234.37 602.09L234.82 603.01L235.3 603.93L235.82 604.84L236.39 605.74L237 606.62L237.64 607.48L238.33 608.29L239.06 609.04L239.81 609.74L240.61 610.36L241.43 610.9L242.29 611.34L243.18 611.68L244.09 611.9L245.03 612.01L245.99 612.01L246.97 611.92L247.96 611.75L248.96 611.51L249.96 611.2L250.95 610.84L251.95 610.45L252.93 610.03L253.9 609.59L254.85 609.14L255.78 608.69L256.69 608.24L257.59 607.8L258.48 607.35L259.36 606.91L260.24 606.46L261.13 606.02L262.01 605.59L262.9 605.15L263.8 604.72L264.71 604.29L265.65 603.87L266.59 603.45L267.55 603.06L268.51 602.7L269.49 602.37L270.47 602.09L271.45 601.86L272.43 601.7L273.41 601.6L274.39 601.58L275.35 601.65L276.31 601.8L277.27 602.02L278.21 602.32L279.15 602.66L280.08 603.06L281.01 603.49L281.93 603.95L282.85 604.42L283.76 604.9L284.67 605.37L285.57 605.84L286.47 606.28L287.37 606.72L288.27 607.15L289.15 607.58L290.04 608.02L290.92 608.47L291.8 608.94L292.67 609.42L293.53 609.93L294.39 610.48L295.24 611.06L296.09 611.68L296.94 612.34L297.78 613L298.62 613.67L299.46 614.32L300.3 614.95L301.15 615.54L302.01 616.06L302.87 616.52L303.75 616.89L304.63 617.17L305.53 617.33L306.45 617.36L307.37 617.28L308.31 617.1L309.25 616.83L310.2 616.47L311.14 616.05L312.09 615.58L313.03 615.06L313.96 614.52L314.88 613.96L315.79 613.39L316.68 612.82L317.55 612.26L318.42 611.7L319.27 611.14L320.11 610.59L320.94 610.04L321.77 609.5L322.59 608.96L323.41 608.42L324.23 607.89L325.04 607.36L325.86 606.83L326.67 606.31L327.49 605.79L328.32 605.27L329.15 604.76L329.99 604.25L330.85 603.74L331.71 603.24L332.58 602.74L333.47 602.25L334.38 601.76L335.3 601.27L336.23 600.8L337.18 600.34L338.14 599.9L339.1 599.5L340.08 599.13L341.05 598.8L342.02 598.52L343 598.3L343.97 598.15L344.93 598.06L345.89 598.03L346.84 598.07L347.79 598.16L348.73 598.3L349.67 598.49L350.61 598.72L351.55 598.98L352.48 599.28L353.42 599.61L354.36 599.96L355.29 600.33L356.23 600.71L357.18 601.11L358.12 601.5L359.07 601.9L360.03 602.29L360.99 602.68L361.96 603.05L362.93 603.4L363.91 603.72L364.9 604.02L365.9 604.29L366.91 604.53L367.92 604.73L368.94 604.89L369.96 605.03L370.97 605.12L371.99 605.18L373.01 605.21L374.02 605.19L375.03 605.14L376.02 605.05L377.01 604.92L377.99 604.76L378.95 604.55L379.9 604.3L380.84 604.01L381.75 603.68L382.65 603.3L383.52 602.88L384.37 602.42L385.2 601.92L386 601.37L386.77 600.77L387.52 600.13L388.24 599.45L388.93 598.73L389.61 597.99L390.27 597.22L390.92 596.43L391.56 595.62L392.19 594.8L392.81 593.98L393.44 593.15L394.06 592.33L394.69 591.52L395.32 590.71L395.95 589.91L396.58 589.11L397.22 588.32L397.85 587.52L398.47 586.73L399.1 585.94L399.71 585.15L400.32 584.35L400.92 583.55L401.51 582.74L402.09 581.93L402.66 581.11L403.22 580.29L403.78 579.46L404.32 578.63L404.85 577.79L405.38 576.95L405.89 576.1L406.4 575.25L406.9 574.4L407.4 573.53L407.88 572.67L408.36 571.8L408.84 570.93L409.3 570.05L409.76 569.17L410.22 568.29L410.67 567.4L411.11 566.51L411.55 565.62L411.98 564.72L412.41 563.82L412.83 562.92L413.25 562.02L413.67 561.11L414.08 560.21L414.49 559.3L414.9 558.38L415.3 557.47L415.7 556.55L416.1 555.64L416.49 554.72L416.89 553.8L417.28 552.88L417.67 551.96L418.06 551.04L418.45 550.11L418.84 549.19L419.23 548.27L419.62 547.34L420.01 546.42L420.4 545.49L420.79 544.57L421.19 543.65L421.58 542.72L421.98 541.8L422.37 540.88L422.77 539.96L423.17 539.04L423.58 538.12L423.99 537.2L424.4 536.28L424.81 535.37L425.23 534.46L425.65 533.55L426.08 532.64L426.51 531.73L426.94 530.83L427.38 529.92L427.82 529.02L428.27 528.13L428.72 527.23L429.18 526.34L429.64 525.44L430.1 524.55L430.56 523.66L431.03 522.77L431.5 521.89L431.97 521L432.45 520.11L432.92 519.23L433.4 518.35L433.88 517.46L434.35 516.58L434.83 515.7L435.31 514.82L435.79 513.93L436.27 513.05L436.75 512.17L437.23 511.29L437.71 510.41L438.19 509.53L438.66 508.65L439.14 507.76L439.61 506.88L440.08 506L440.55 505.11L441.01 504.23L441.48 503.34L441.94 502.45L442.39 501.56L442.85 500.67L443.3 499.78L443.74 498.89L444.18 497.99L444.62 497.09L445.05 496.19L445.48 495.29L445.9 494.39L446.32 493.49L446.73 492.58L447.14 491.67L447.54 490.76L447.93 489.84L448.32 488.92L448.7 488L449.07 487.08L449.44 486.16L449.8 485.23L450.16 484.3L450.51 483.37L450.86 482.43L451.2 481.5L451.53 480.56L451.86 479.62L452.19 478.67L452.5 477.73L452.82 476.78L453.13 475.83L453.43 474.88L453.73 473.93L454.03 472.98L454.32 472.02L454.6 471.06L454.88 470.1L455.16 469.14L455.43 468.18L455.7 467.22L455.97 466.25L456.23 465.29L456.48 464.32L456.74 463.35L456.98 462.38L457.23 461.41L457.47 460.44L457.71 459.46L457.95 458.49L458.18 457.51L458.41 456.54L458.63 455.56L458.85 454.58L459.07 453.6L459.29 452.62L459.5 451.64L459.72 450.66L459.93 449.68L460.13 448.7L460.34 447.71L460.54 446.73L460.74 445.75L460.94 444.76L461.13 443.78L461.32 442.8L461.52 441.81L461.71 440.83L461.9 439.84L462.08 438.86L462.27 437.87L462.45 436.89L462.64 435.9L462.82 434.92L463 433.93L463.18 432.95L463.35 431.96L463.53 430.98L463.71 429.99L463.88 429.01L464.05 428.02L464.22 427.04L464.4 426.05L464.57 425.07L464.73 424.08L464.9 423.1L465.07 422.11L465.23 421.13L465.4 420.14L465.56 419.16L465.73 418.17L465.89 417.19L466.05 416.2L466.21 415.22L466.37 414.23L466.53 413.24L466.69 412.26L466.85 411.27L467 410.29L467.16 409.3L467.31 408.31L467.47 407.33L467.62 406.34L467.78 405.35L467.93 404.37L468.08 403.38L468.24 402.39L468.39 401.4L468.54 400.41L468.69 399.43L468.84 398.44L468.99 397.45L469.14 396.46L469.29 395.47L469.44 394.48L469.59 393.49L469.74 392.5L469.89 391.51L470.04 390.52L470.19 389.53L470.34 388.54L470.49 387.55L470.63 386.55L470.78 385.56L470.93 384.57L471.09 383.58L471.24 382.59L471.39 381.6L471.55 380.61L471.7 379.62L471.86 378.63L472.02 377.64L472.19 376.65L472.35 375.66L472.52 374.67L472.7 373.68L472.87 372.7L473.05 371.71L473.23 370.72L473.42 369.74L473.61 368.76L473.8 367.78L474 366.8L474.2 365.82L474.41 364.84L474.63 363.86L474.84 362.89L475.07 361.91L475.3 360.94L475.53 359.97L475.77 359L476.02 358.04L476.28 357.07L476.54 356.11L476.81 355.15L477.08 354.19L477.36 353.23L477.65 352.28L477.95 351.32L478.26 350.37L478.57 349.43L478.89 348.48L479.22 347.54L479.56 346.6L479.91 345.66L480.27 344.73L480.63 343.79L481 342.86L481.38 341.93L481.76 341.01L482.14 340.08L482.53 339.15L482.92 338.23L483.32 337.31L483.71 336.38L484.1 335.46L484.49 334.53L484.88 333.61L485.27 332.68L485.65 331.75L486.02 330.82L486.39 329.89L486.76 328.96L487.11 328.03L487.46 327.09L487.8 326.15L488.12 325.21L488.44 324.26L488.75 323.31L489.05 322.36L489.34 321.41L489.63 320.45L489.91 319.49L490.17 318.53L490.43 317.57L490.69 316.61L490.93 315.64L491.17 314.67L491.4 313.7L491.63 312.73L491.85 311.76L492.06 310.78L492.27 309.8L492.47 308.83L492.66 307.85L492.85 306.86L493.03 305.88L493.21 304.9L493.39 303.91L493.56 302.92L493.72 301.94L493.89 300.95L494.04 299.96L494.2 298.97L494.35 297.98L494.49 296.98L494.64 295.99L494.78 295L494.92 294L495.05 293.01L495.19 292.01L495.32 291.02L495.45 290.02L495.57 289.03L495.7 288.03L495.83 287.03L495.95 286.04L496.07 285.04L496.2 284.05L496.32 283.05L496.44 282.05L496.56 281.06L496.68 280.06L496.8 279.07L496.92 278.07L497.04 277.08L497.15 276.08L497.27 275.09L497.39 274.09L497.51 273.1L497.62 272.1L497.74 271.11L497.85 270.11L497.97 269.12L498.08 268.13L498.2 267.13L498.31 266.14L498.42 265.14L498.54 264.15L498.65 263.15L498.76 262.16L498.88 261.17L498.99 260.17L499.1 259.18L499.21 258.19L499.32 257.19L499.43 256.2L499.54 255.21L499.65 254.21L499.76 253.22L499.87 252.23L499.98 251.23L500.09 250.24L500.2 249.25L500.31 248.25L500.42 247.26L500.53 246.27L500.64 245.27L500.75 244.28L500.86 243.29L500.97 242.3L501.08 241.3L501.19 240.31L501.3 239.32L501.41 238.32L501.52 237.33L501.63 236.34L501.73 235.35L501.84 234.35L501.95 233.36L502.06 232.37L502.17 231.37L502.28 230.38L502.39 229.39L502.5 228.4L502.61 227.4L502.72 226.41L502.83 225.42L502.94 224.42L503.06 223.43L503.17 222.44L503.28 221.44L503.39 220.45L503.5 219.46L503.62 218.46L503.73 217.47L503.84 216.48L503.95 215.48L504.07 214.49L504.18 213.5L504.3 212.5L504.41 211.51L504.53 210.52L504.64 209.52L504.76 208.53L504.88 207.53L504.99 206.54L505.11 205.55L505.23 204.55L505.35 203.56L505.47 202.56L505.58 201.57L505.7 200.57L505.83 199.58L505.95 198.59L506.07 197.59L506.19 196.6L506.31 195.6L506.44 194.61L506.56 193.61L506.69 192.62L506.81 191.62L506.94 190.62L507.06 189.63L507.19 188.63L507.33 187.64L507.48 186.64L507.66 185.65L507.87 184.65L508.13 183.66L508.43 182.66L508.79 181.67L509.23 180.68L509.73 179.7L510.29 178.82L510.87 178.13L511.45 177.76L512.01 177.8L512.52 178.24L513 178.98L513.44 179.95L513.83 181.04L514.18 182.17L514.49 183.28L514.75 184.36L514.99 185.42L515.19 186.46L515.37 187.49L515.52 188.5L515.66 189.5L515.79 190.5L515.9 191.49L516.01 192.47L516.11 193.46L516.22 194.44L516.32 195.43L516.43 196.41L516.53 197.4L516.63 198.39L516.73 199.38L516.83 200.36L516.93 201.35L517.02 202.34L517.12 203.33L517.21 204.32L517.31 205.31L517.4 206.3L517.49 207.29L517.58 208.28L517.67 209.27L517.76 210.26L517.85 211.25L517.94 212.24L518.03 213.23L518.11 214.23L518.2 215.22L518.28 216.21L518.36 217.2L518.45 218.2L518.53 219.19L518.61 220.19L518.69 221.18L518.77 222.17L518.85 223.17L518.92 224.16L519 225.16L519.08 226.15L519.15 227.15L519.23 228.15L519.3 229.14L519.38 230.14L519.45 231.13L519.52 232.13L519.59 233.13L519.67 234.12L519.74 235.12L519.81 236.12L519.88 237.12L519.94 238.11L520.01 239.11L520.08 240.11L520.15 241.11L520.21 242.11L520.28 243.1L520.35 244.1L520.41 245.1L520.48 246.1L520.54 247.1L520.6 248.1L520.67 249.1L520.73 250.1L520.79 251.1L520.86 252.1L520.92 253.1L520.98 254.1L521.04 255.1L521.1 256.1L521.16 257.1L521.22 258.1L521.28 259.1L521.34 260.1L521.4 261.1L521.46 262.1L521.52 263.1L521.58 264.1L521.63 265.1L521.69 266.1L521.75 267.1L521.81 268.1L521.86 269.1L521.92 270.1L521.98 271.1L522.03 272.11L522.09 273.11L522.15 274.11L522.2 275.11L522.26 276.11L522.32 277.11L522.37 278.11L522.43 279.11L522.48 280.11L522.54 281.11L522.6 282.11L522.65 283.11L522.71 284.11L522.76 285.11L522.82 286.11L522.88 287.12L522.93 288.12L522.99 289.12L523.04 290.12L523.1 291.12L523.16 292.12L523.21 293.12L523.27 294.12L523.32 295.12L523.38 296.12L523.43 297.12L523.49 298.12L523.55 299.12L523.6 300.12L523.66 301.12L523.71 302.11L523.77 303.11L523.83 304.11L523.88 305.11L523.94 306.11L523.99 307.11L524.05 308.11L524.11 309.11L524.16 310.11L524.22 311.11L524.27 312.11L524.33 313.11L524.39 314.11L524.44 315.11L524.5 316.11L524.55 317.11L524.61 318.1L524.67 319.1L524.72 320.1L524.78 321.1L524.83 322.1L524.89 323.1L524.95 324.1L525 325.1L525.06 326.1L525.11 327.09L525.17 328.09L525.23 329.09L525.28 330.09L525.34 331.09L525.39 332.09L525.45 333.09L525.5 334.09L525.56 335.08L525.62 336.08L525.67 337.08L525.73 338.08L525.78 339.08L525.84 340.08L525.89 341.08L525.95 342.07L526.01 343.07L526.06 344.07L526.12 345.07L526.17 346.07L526.23 347.07L526.28 348.07L526.34 349.06L526.4 350.06L526.45 351.06L526.51 352.06L526.56 353.06L526.62 354.06L526.67 355.05L526.73 356.05L526.78 357.05L526.84 358.05L526.89 359.05L526.95 360.05L527 361.05L527.06 362.04L527.11 363.04L527.17 364.04L527.23 365.04L527.28 366.04L527.34 367.04L527.39 368.03L527.45 369.03L527.5 370.03L527.56 371.03L527.61 372.03L527.67 373.03L527.72 374.03L527.77 375.02L527.83 376.02L527.88 377.02L527.94 378.02L527.99 379.02L528.05 380.02L528.1 381.02L528.16 382.01L528.21 383.01L528.27 384.01L528.32 385.01L528.38 386.01L528.43 387.01L528.48 388.01L528.54 389.01L528.59 390L528.65 391L528.7 392L528.75 393L528.81 394L528.86 395L528.92 396L528.97 397L529.02 398L529.08 398.99L529.13 399.99L529.19 400.99L529.24 401.99L529.29 402.99L529.35 403.99L529.4 404.99L529.46 405.99L529.51 406.99L529.56 407.99L529.62 408.99L529.67 409.98L529.72 410.98L529.78 411.98L529.83 412.98L529.89 413.98L529.94 414.98L529.99 415.98L530.05 416.98L530.1 417.98L530.15 418.98L530.21 419.98L530.26 420.98L530.32 421.98L530.37 422.98L530.42 423.97L530.48 424.97L530.53 425.97L530.59 426.97L530.64 427.97L530.69 428.97L530.75 429.97L530.8 430.97L530.85 431.97L530.91 432.97L530.96 433.97L531.02 434.97L531.07 435.97L531.13 436.97L531.18 437.97L531.23 438.97L531.29 439.96L531.34 440.96L531.4 441.96L531.45 442.96L531.51 443.96L531.56 444.96L531.61 445.96L531.67 446.96L531.72 447.96L531.78 448.96L531.83 449.96L531.89 450.96L531.94 451.96L532 452.96L532.05 453.96L532.11 454.96L532.16 455.96L532.22 456.95L532.27 457.95L532.33 458.95L532.38 459.95L532.44 460.95L532.49 461.95L532.55 462.95L532.6 463.95L532.66 464.95L532.72 465.95L532.77 466.95L532.83 467.95L532.88 468.95L532.94 469.95L533 470.95L533.05 471.95L533.11 472.94L533.17 473.94L533.22 474.94L533.28 475.94L533.34 476.94L533.39 477.94L533.45 478.94L533.51 479.94L533.56 480.94L533.62 481.94L533.68 482.94L533.74 483.94L533.79 484.94L533.85 485.93L533.91 486.93L533.97 487.93L534.02 488.93L534.08 489.93L534.14 490.93L534.2 491.93L534.26 492.93L534.32 493.93L534.37 494.93L534.43 495.93L534.49 496.92L534.55 497.92L534.61 498.92L534.67 499.92L534.73 500.92L534.79 501.92L534.85 502.92L534.91 503.92L534.97 504.92L535.03 505.92L535.09 506.91L535.15 507.91L535.21 508.91L535.27 509.91L535.33 510.91L535.39 511.91L535.46 512.91L535.52 513.9L535.58 514.9L535.64 515.9L535.71 516.9L535.77 517.9L535.83 518.9L535.9 519.9L535.96 520.89L536.02 521.89L536.09 522.89L536.15 523.89L536.22 524.89L536.29 525.89L536.35 526.88L536.42 527.88L536.49 528.88L536.55 529.88L536.62 530.88L536.69 531.87L536.76 532.87L536.83 533.87L536.9 534.87L536.97 535.87L537.04 536.86L537.11 537.86L537.18 538.86L537.25 539.86L537.33 540.86L537.4 541.85L537.47 542.85L537.55 543.85L537.62 544.85L537.7 545.84L537.78 546.84L537.85 547.84L537.93 548.83L538.01 549.83L538.09 550.83L538.17 551.83L538.25 552.82L538.33 553.82L538.41 554.82L538.49 555.81L538.58 556.81L538.66 557.81L538.75 558.8L538.83 559.8L538.92 560.8L539 561.79L539.09 562.79L539.18 563.79L539.27 564.78L539.36 565.78L539.45 566.77L539.54 567.77L539.64 568.77L539.73 569.76L539.82 570.76L539.92 571.75L540.01 572.75L540.11 573.75L540.21 574.74L540.31 575.74L540.41 576.73L540.51 577.73L540.61 578.72L540.71 579.72L540.82 580.71L540.92 581.71L541.03 582.7L541.13 583.7L541.24 584.69L541.35 585.69L541.46 586.68L541.57 587.68L541.68 588.67L541.8 589.67L541.91 590.66L542.03 591.65L542.14 592.65L542.26 593.64L542.38 594.64L542.5 595.63L542.62 596.62L542.74 597.62L542.86 598.61L542.99 599.61L543.11 600.6L543.24 601.59L543.37 602.59L543.5 603.58L543.63 604.57L543.76 605.56L543.89 606.56L544.03 607.55L544.16 608.54L544.3 609.54L544.44 610.53L544.58 611.52L544.72 612.51L544.86 613.51L545 614.5L545.15 615.49L545.29 616.48L545.44 617.47L545.59 618.46L545.74 619.46L545.9 620.45L546.06 621.44L546.22 622.42L546.38 623.41L546.55 624.4L546.72 625.39L546.9 626.37L547.07 627.36L547.26 628.34L547.45 629.32L547.64 630.3L547.84 631.28L548.04 632.26L548.25 633.24L548.46 634.21L548.68 635.19L548.91 636.16L549.14 637.13L549.38 638.1L549.63 639.06L549.88 640.03L550.14 640.99L550.41 641.95L550.69 642.91L550.97 643.86L551.27 644.81L551.57 645.76L551.88 646.71L552.2 647.66L552.52 648.6L552.86 649.54L553.21 650.47L553.57 651.41L553.93 652.34L554.31 653.26L554.7 654.19L555.1 655.1L555.51 656.02L555.94 656.92L556.37 657.82L556.82 658.72L557.29 659.61L557.76 660.49L558.25 661.36L558.76 662.23L559.28 663.09L559.82 663.94L560.37 664.77L560.94 665.6L561.52 666.42L562.12 667.23L562.74 668.03L563.38 668.82L564.03 669.59L564.71 670.36L565.4 671.1L566.1 671.84L566.83 672.56L567.57 673.26L568.33 673.94L569.1 674.6L569.88 675.24L570.68 675.86L571.5 676.46L572.33 677.04L573.17 677.59L574.02 678.11L574.89 678.6L575.76 679.07L576.65 679.51L577.55 679.91L578.46 680.29L579.37 680.63L580.3 680.94L581.24 681.21L582.18 681.46L583.13 681.67L584.09 681.85L585.06 682.01L586.03 682.14L587.01 682.24L588 682.33L588.99 682.39L589.98 682.44L590.98 682.46L591.99 682.48L592.99 682.47L594 682.46L595.02 682.44L596.03 682.4L597.05 682.36L598.07 682.32L599.09 682.27L600.11 682.22L601.14 682.17L602.16 682.12L603.18 682.07L604.2 682.03L605.22 681.99L606.24 681.95L607.25 681.91L608.27 681.88L609.28 681.84L610.3 681.81L611.31 681.77L612.32 681.73L613.32 681.69L614.33 681.64L615.33 681.59L616.33 681.54L617.33 681.47L618.33 681.4L619.32 681.32L620.31 681.23L621.3 681.13L622.28 681.02L623.26 680.9L624.24 680.77L625.21 680.62L626.18 680.46L627.15 680.28L628.11 680.09L629.07 679.88L630.03 679.65L630.98 679.4L631.93 679.14L632.87 678.85L633.81 678.55L634.74 678.22L635.67 677.87L636.59 677.5L637.51 677.1L638.43 676.68L639.34 676.25L640.25 675.8L641.16 675.34L642.06 674.87L642.97 674.39L643.87 673.92L644.78 673.44L645.68 672.97L646.59 672.5L647.5 672.05L648.41 671.6L649.32 671.18L650.24 670.77L651.16 670.38L652.09 670.01L653.02 669.68L653.96 669.37L654.91 669.1L655.87 668.86L656.83 668.66L657.8 668.49L658.77 668.37L659.76 668.27L660.74 668.21L661.73 668.17L662.73 668.17L663.72 668.2L664.72 668.25L665.73 668.33L666.73 668.43L667.73 668.56L668.73 668.71L669.73 668.88L670.73 669.07L671.73 669.27L672.72 669.48L673.71 669.7L674.7 669.91L675.69 670.11L676.68 670.3L677.66 670.46L678.65 670.59L679.63 670.7L680.61 670.76L681.58 670.77L682.55 670.74L683.53 670.67L684.49 670.56L685.46 670.4L686.42 670.2L687.37 669.96L688.33 669.67L689.27 669.34L690.21 668.98L691.15 668.57L692.08 668.12L693.01 667.64L693.93 667.14L694.85 666.62L695.76 666.08L696.67 665.52L697.58 664.97L698.49 664.41L699.39 663.86L700.3 663.32L701.2 662.8L702.11 662.29L703.01 661.81L703.92 661.36L704.83 660.95L705.74 660.58L706.65 660.26L707.56 659.98L708.48 659.77L709.4 659.61L710.33 659.53L711.26 659.51L712.2 659.57L713.14 659.71L714.08 659.92L715.02 660.2L715.96 660.53L716.9 660.92L717.83 661.36L718.75 661.85L719.66 662.37L720.56 662.92L721.45 663.5L722.32 664.11L723.18 664.72L724.02 665.35L724.85 665.98L725.68 666.6L726.5 667.21L727.33 667.81L728.15 668.37L728.99 668.91L729.84 669.4L730.7 669.85L731.57 670.25L732.47 670.58L733.39 670.85L734.33 671.06L735.29 671.21L736.27 671.31L737.25 671.37L738.25 671.37L739.26 671.34L740.27 671.27L741.28 671.16L742.29 671.03L743.3 670.87L744.31 670.69L745.32 670.49L746.33 670.28L747.33 670.05L748.34 669.81L749.34 669.56L750.34 669.32L751.33 669.07L752.33 668.82L753.32 668.58L754.31 668.34L755.3 668.12L756.29 667.91L757.27 667.72L758.26 667.55L759.24 667.41L760.22 667.29L761.19 667.2L762.17 667.14L763.14 667.12L764.11 667.14L765.08 667.2L766.05 667.3L767.02 667.45L767.98 667.64L768.94 667.86L769.9 668.12L770.86 668.41L771.82 668.72L772.78 669.06L773.74 669.41L774.7 669.77L775.66 670.14L776.62 670.52L777.58 670.9L778.54 671.28L779.5 671.65L780.46 672.02L781.43 672.36L782.4 672.7L783.37 673L784.34 673.29L785.31 673.54L786.29 673.76L787.27 673.95L788.25 674.09L789.24 674.19L790.22 674.25L791.21 674.27L792.2 674.25L793.18 674.18L794.17 674.08L795.14 673.95L796.12 673.77L797.08 673.56L798.04 673.31L799 673.03L799.94 672.71L800.87 672.36L801.79 671.97L802.7 671.55L803.59 671.1L804.47 670.62L805.33 670.11L806.18 669.57L807.01 669L807.81 668.39L808.6 667.77L809.37 667.11L810.13 666.44L810.88 665.76L811.63 665.07L812.37 664.37L813.11 663.68L813.86 662.99L814.63 662.32L815.4 661.66L816.19 661.03L817.01 660.42L817.84 659.84L818.7 659.29L819.57 658.77L820.46 658.28L821.37 657.83L822.29 657.4L823.22 657.01L824.17 656.65L825.13 656.33L826.09 656.04L827.06 655.79L828.04 655.57L829.03 655.39L830.01 655.25L831 655.15L831.99 655.09L832.98 655.06L833.96 655.08L834.95 655.13L835.92 655.23L836.89 655.38L837.86 655.56L838.81 655.79L839.75 656.06L840.69 656.37L841.62 656.71L842.54 657.09L843.45 657.5L844.36 657.93L845.27 658.38L846.17 658.85L847.06 659.34L847.96 659.84L848.85 660.34L849.75 660.85L850.64 661.36L851.53 661.87L852.43 662.38L853.33 662.87L854.23 663.35L855.14 663.82L856.05 664.26L856.97 664.69L857.89 665.08L858.83 665.45L859.77 665.79L860.72 666.09L861.67 666.35L862.63 666.57L863.6 666.76L864.57 666.9L865.55 666.99L866.54 667.04L867.52 667.04L868.51 666.98L869.51 666.88L870.5 666.72L871.5 666.5L872.49 666.23L873.48 665.92L874.46 665.55L875.43 665.14L876.38 664.69L877.32 664.2L878.23 663.68L879.13 663.12L879.99 662.54L880.82 661.92L881.63 661.29L882.39 660.63L883.13 659.95L883.84 659.25L884.52 658.52L885.16 657.78L885.79 657.02L886.38 656.24L886.95 655.44L887.49 654.63L888.01 653.8L888.51 652.96L888.99 652.1L889.44 651.23L889.88 650.35L890.29 649.45L890.69 648.54L891.07 647.63L891.44 646.7L891.79 645.77L892.13 644.82L892.45 643.87L892.76 642.91L893.06 641.95L893.36 640.98L893.64 640.01L893.91 639.04L894.18 638.06L894.44 637.08L894.69 636.1L894.95 635.12L895.19 634.14L895.44 633.16L895.68 632.19L895.93 631.21L896.17 630.24L896.41 629.27L896.65 628.29L896.89 627.32L897.12 626.35L897.36 625.38L897.59 624.42L897.83 623.45L898.06 622.48L898.3 621.51L898.53 620.54L898.77 619.57L899 618.6L899.23 617.63L899.47 616.65L899.7 615.68L899.93 614.71L900.17 613.74L900.4 612.76L900.63 611.79L900.86 610.82L901.09 609.84L901.33 608.87L901.56 607.89L901.79 606.92L902.02 605.94L902.25 604.96L902.48 603.99L902.71 603.01L902.94 602.04L903.17 601.06L903.39 600.09L903.62 599.11L903.85 598.14L904.08 597.16L904.3 596.18L904.53 595.21L904.75 594.24L904.98 593.26L905.2 592.29L905.43 591.31L905.65 590.34L905.87 589.37L906.09 588.39L906.32 587.42L906.54 586.45L906.76 585.47L906.99 584.5L907.21 583.53L907.44 582.56L907.66 581.59L907.89 580.62L908.11 579.64L908.34 578.67L908.57 577.7L908.8 576.73L909.03 575.76L909.27 574.79L909.5 573.82L909.74 572.85L909.98 571.87L910.22 570.9L910.46 569.93L910.71 568.96L910.96 567.99L911.21 567.02L911.46 566.05L911.72 565.07L911.98 564.1L912.24 563.13L912.51 562.16L912.79 561.2L913.08 560.23L913.38 559.27L913.69 558.32L914.02 557.37L914.36 556.43L914.73 555.49L915.11 554.57L915.52 553.65L915.95 552.74L916.4 551.85L916.89 550.96L917.4 550.09L917.94 549.24L918.51 548.39L919.12 547.57L919.77 546.75L920.45 545.96L921.17 545.21L921.92 544.56L922.69 544.05L923.49 543.76L924.3 543.72L925.12 543.96L925.94 544.43L926.74 545.09L927.51 545.9L928.25 546.81L928.95 547.77L929.58 548.75L930.15 549.72L930.67 550.67L931.13 551.62L931.56 552.56L931.94 553.5L932.29 554.42L932.61 555.35L932.92 556.27L933.21 557.2L933.49 558.12L933.77 559.05L934.05 559.98L934.33 560.91L934.61 561.85L934.9 562.79L935.18 563.73L935.46 564.68L935.74 565.62L936.02 566.57L936.3 567.53L936.58 568.48L936.85 569.44L937.12 570.4L937.39 571.36L937.66 572.33L937.92 573.29L938.19 574.26L938.44 575.23L938.7 576.2L938.95 577.17L939.19 578.15L939.43 579.12L939.67 580.1L939.9 581.08L940.12 582.06L940.34 583.04L940.55 584.02L940.76 585.01L940.96 585.99L941.16 586.98L941.35 587.96L941.54 588.95L941.72 589.94L941.9 590.92L942.08 591.91L942.25 592.9L942.41 593.89L942.58 594.88L942.74 595.87L942.9 596.87L943.05 597.86L943.21 598.85L943.36 599.84L943.51 600.84L943.65 601.83L943.8 602.82L943.95 603.81L944.09 604.81L944.23 605.8L944.38 606.79L944.52 607.79L944.66 608.78L944.8 609.77L944.95 610.76L945.09 611.76L945.23 612.75L945.38 613.74L945.53 614.73L945.67 615.72L945.82 616.71L945.98 617.7L946.13 618.68L946.29 619.67L946.45 620.66L946.61 621.64L946.78 622.63L946.95 623.61L947.12 624.59L947.3 625.58L947.48 626.56L947.66 627.54L947.85 628.51L948.05 629.49L948.25 630.47L948.45 631.44L948.66 632.42L948.88 633.39L949.1 634.36L949.33 635.33L949.56 636.29L949.8 637.26L950.05 638.22L950.31 639.18L950.56 640.14L950.83 641.1L951.1 642.06L951.38 643.02L951.66 643.98L951.94 644.93L952.24 645.89L952.53 646.84L952.83 647.79L953.13 648.75L953.44 649.7L953.75 650.65L954.06 651.6L954.37 652.56L954.69 653.51L955.01 654.46L955.33 655.41L955.66 656.37L955.98 657.32L956.31 658.27L956.64 659.23L956.97 660.18L957.3 661.14L957.63 662.09L957.96 663.05L958.29 664.01L958.63 664.96L958.97 665.91L959.32 666.86L959.67 667.81L960.04 668.75L960.41 669.68L960.8 670.6L961.2 671.52L961.62 672.42L962.05 673.32L962.51 674.2L962.98 675.07L963.47 675.92L963.98 676.76L964.52 677.58L965.09 678.39L965.68 679.17L966.3 679.94L966.95 680.69L967.63 681.41L968.33 682.12L969.07 682.8L969.83 683.46L970.62 684.09L971.43 684.7L972.25 685.29L973.1 685.86L973.97 686.4L974.85 686.92L975.74 687.41L976.65 687.88L977.57 688.32L978.49 688.74L979.43 689.13L980.37 689.5L981.31 689.84L982.25 690.15L983.2 690.44L984.15 690.71L985.1 690.97L986.05 691.22L987.01 691.46L987.97 691.7L988.93 691.95L989.89 692.22L990.86 692.49L991.83 692.78L992.81 693.1"/>
</g>
<circle cx="511.7" cy="177.4" r="5.2" fill="#f00"/>
<circle cx="529.2" cy="177.4" r="5.2" fill="#f00"/>
<text class="pk" x="511.7" y="170.8">417.5</text>
<text class="pk" x="529.2" y="170.8">427.8</text>
<g shape-rendering="crispEdges">
<rect x="175.42" y="41.83" width="300.08" height="20.81" fill="#000000"/>
<rect x="475.2" y="41.83" width="5.75" height="20.81" fill="#020009"/>
<rect x="480.65" y="41.83" width="5.75" height="20.81" fill="#05001D"/>
<rect x="486.1" y="41.83" width="5.75" height="20.81" fill="#080036"/>
<rect x="491.55" y="41.83" width="5.75" height="20.81" fill="#0B0057"/>
<rect x="497" y="41.83" width="5.75" height="20.81" fill="#110082"/>
<rect x="502.45" y="41.83" width="5.75" height="20.81" fill="#1800BC"/>
<rect x="507.9" y="41.83" width="5.75" height="20.81" fill="#2000F6"/>
<rect x="513.35" y="41.83" width="5.75" height="20.81" fill="#2100FF"/>
<rect x="518.8" y="41.83" width="5.75" height="20.81" fill="#1F00FF"/>
<rect x="524.25" y="41.83" width="5.75" height="20.81" fill="#1E00FF"/>
<rect x="529.7" y="41.83" width="5.75" height="20.81" fill="#1C00FF"/>
<rect x="535.15" y="41.83" width="5.75" height="20.81" fill="#1800FF"/>
<rect x="540.6" y="41.83" width="5.75" height="20.81" fill="#1400FF"/>
<rect x="546.05" y="41.83" width="5.75" height="20.81" fill="#1100FF"/>
<rect x="551.5" y="41.83" width="5.75" height="20.81" fill="#0D00FF"/>
<rect x="556.96" y="41.83" width="5.75" height="20.81" fill="#0900FF"/>
<rect x="562.41" y="41.83" width="5.75" height="20.81" fill="#0600FF"/>
<rect x="567.86" y="41.83" width="5.75" height="20.81" fill="#0300FF"/>
<rect x="573.31" y="41.83" width="5.75" height="20.81" fill="#0000FF"/>
<rect x="578.76" y="41.83" width="5.75" height="20.81" fill="#0003FF"/>
<rect x="584.21" y="41.83" width="5.75" height="20.81" fill="#0006FF"/>
<rect x="589.66" y="41.83" width="5.75" height="20.81" fill="#000CFF"/>
<rect x="595.11" y="41.83" width="5.75" height="20.81" fill="#0017FF"/>
<rect x="600.56" y="41.83" width="5.75" height="20.81" fill="#0022FF"/>
<rect x="606.01" y="41.83" width="5.75" height="20.81" fill="#002EF8"/>
<rect x="611.46" y="41.83" width="5.75" height="20.81" fill="#003AE9"/>
<rect x="616.91" y="41.83" width="5.75" height="20.81" fill="#0049BE"/>
<rect x="622.36" y="41.83" width="5.75" height="20.81" fill="#005AA0"/>
<rect x="627.81" y="41.83" width="5.75" height="20.81" fill="#006781"/>
<rect x="633.26" y="41.83" width="5.75" height="20.81" fill="#007463"/>
<rect x="638.71" y="41.83" width="5.75" height="20.81" fill="#008147"/>
<rect x="644.16" y="41.83" width="5.75" height="20.81" fill="#009137"/>
<rect x="649.61" y="41.83" width="5.75" height="20.81" fill="#00A728"/>
<rect x="655.07" y="41.83" width="5.75" height="20.81" fill="#00BE19"/>
<rect x="660.52" y="41.83" width="5.75" height="20.81" fill="#00D010"/>
<rect x="665.97" y="41.83" width="5.75" height="20.81" fill="#00F100"/>
<rect x="671.42" y="41.83" width="71.16" height="20.81" fill="#00FF00"/>
<rect x="742.27" y="41.83" width="5.75" height="20.81" fill="#21FF00"/>
<rect x="747.72" y="41.83" width="5.75" height="20.81" fill="#4EFF00"/>
<rect x="753.18" y="41.83" width="5.75" height="20.81" fill="#81FF00"/>
<rect x="758.63" y="41.83" width="5.75" height="20.81" fill="#ADFF00"/>
<rect x="764.08" y="41.83" width="5.75" height="20.81" fill="#E1FF00"/>
<rect x="769.53" y="41.83" width="5.75" height="20.81" fill="#FFFD00"/>
<rect x="774.98" y="41.83" width="5.75" height="20.81" fill="#FFE700"/>
<rect x="780.43" y="41.83" width="5.75" height="20.81" fill="#FFD100"/>
<rect x="785.88" y="41.83" width="5.75" height="20.81" fill="#FFB700"/>
<rect x="791.33" y="41.83" width="5.75" height="20.81" fill="#FFA000"/>
<rect x="796.78" y="41.83" width="5.75" height="20.81" fill="#FF8700"/>
<rect x="802.23" y="41.83" width="5.75" height="20.81" fill="#FF7000"/>
<rect x="807.68" y="41.83" width="5.75" height="20.81" fill="#FF5600"/>
<rect x="813.13" y="41.83" width="5.75" height="20.81" fill="#FF4000"/>
<rect x="818.58" y="41.83" width="5.75" height="20.81" fill="#FF2700"/>
<rect x="824.03" y="41.83" width="5.75" height="20.81" fill="#FF1800"/>
<rect x="829.48" y="41.83" width="5.75" height="20.81" fill="#FF0900"/>
<rect x="834.93" y="41.83" width="5.75" height="20.81" fill="#FF0100"/>
<rect x="840.38" y="41.83" width="60.26" height="20.81" fill="#FF0000"/>
<rect x="900.34" y="41.83" width="5.75" height="20.81" fill="#E90000"/>
<rect x="905.79" y="41.83" width="5.75" height="20.81" fill="#C70000"/>
<rect x="911.24" y="41.83" width="5.75" height="20.81" fill="#A10000"/>
<rect x="916.69" y="41.83" width="5.75" height="20.81" fill="#8A0000"/>
<rect x="922.14" y="41.83" width="5.75" height="20.81" fill="#700000"/>
<rect x="927.59" y="41.83" width="5.75" height="20.81" fill="#5D0000"/>
<rect x="933.04" y="41.83" width="5.75" height="20.81" fill="#4C0000"/>
<rect x="938.49" y="41.83" width="5.75" height="20.81" fill="#410000"/>
<rect x="943.94" y="41.83" width="5.75" height="20.81" fill="#360000"/>
<rect x="949.4" y="41.83" width="5.75" height="20.81" fill="#2C0000"/>
<rect x="954.85" y="41.83" width="5.75" height="20.81" fill="#240000"/>
<rect x="960.3" y="41.83" width="5.75" height="20.81" fill="#1E0000"/>
<rect x="965.75" y="41.83" width="5.75" height="20.81" fill="#180000"/>
<rect x="971.2" y="41.83" width="5.75" height="20.81" fill="#140000"/>
<rect x="976.65" y="41.83" width="5.75" height="20.81" fill="#100000"/>
<rect x="982.1" y="41.83" width="5.75" height="20.81" fill="#0D0000"/>
<rect x="987.55" y="41.83" width="5.75" height="20.81" fill="#0B0000"/>
</g>
<rect x="174.5" y="73.05" width="103.11" height="62.43" fill="#000000" stroke="#fff" stroke-width="2.85"/>
<rect x="277.61" y="73.05" width="59.62" height="62.43" fill="#000000" stroke="#fff" stroke-width="2.85"/>
<rect x="337.23" y="73.05" width="144.78" height="62.43" fill="#02000F" stroke="#fff" stroke-width="2.85"/>
<rect x="482.01" y="73.05" width="510.99" height="62.43" fill="#735B57" stroke="#fff" stroke-width="2.85"/>
<text class="wb" x="226.51" y="108.7">]UVC</text>
<text class="wb" x="307.42" y="108.7">UVB</text>
<text class="wb" x="409.62" y="108.7">UVA</text>
<text class="wb" x="737.5" y="108.7">PhR</text>
</g>
<rect x="112.4" y="14.6" width="924.3" height="715.4" fill="none" stroke="#333" stroke-width="2.85" clip-path="url(#pc)"/>
<g stroke="#333" stroke-width="2.85" fill="none">
<line x1="105.07" x2="112.4" y1="697.4" y2="697.4"/>
<line x1="105.07" x2="112.4" y1="489.28" y2="489.28"/>
<line x1="105.07" x2="112.4" y1="281.17" y2="281.17"/>
<line x1="105.07" x2="112.4" y1="73.05" y2="73.05"/>
<line x1="141.35" x2="141.35" y1="730" y2="737.1"/>
<line x1="311.68" x2="311.68" y1="730" y2="737.1"/>
<line x1="482.01" x2="482.01" y1="730" y2="737.1"/>
<line x1="652.34" x2="652.34" y1="730" y2="737.1"/>
<line x1="822.67" x2="822.67" y1="730" y2="737.1"/>
<line x1="993" x2="993" y1="730" y2="737.1"/>
</g>
<text class="ax" text-anchor="end" x="99" y="705.8">0.0</text>
<text class="ax" text-anchor="end" x="99" y="497.68">0.4</text>
<text class="ax" text-anchor="end" x="99" y="289.57">0.8</text>
<text class="ax" text-anchor="end" x="99" y="81.45">1.2</text>
<text class="ax" text-anchor="middle" letter-spacing="-0.15" x="140.85" y="759.6">200</text>
<text class="ax" text-anchor="middle" letter-spacing="-0.15" x="311.18" y="759.6">300</text>
<text class="ax" text-anchor="middle" letter-spacing="-0.15" x="481.51" y="759.6">400</text>
<text class="ax" text-anchor="middle" letter-spacing="-0.15" x="651.84" y="759.6">500</text>
<text class="ax" text-anchor="middle" letter-spacing="-0.15" x="822.17" y="759.6">600</text>
<text class="ax" text-anchor="middle" letter-spacing="-0.15" x="992.5" y="759.6">700</text>
<text class="ti" x="447.26" y="798">Wavelength, λ <tspan x="640.77" y="796.9" font-size="34.61" textLength="9.77" lengthAdjust="spacingAndGlyphs">(</tspan><tspan x="650.84" y="798">nm</tspan><tspan x="691.18" y="796.9" font-size="34.61" textLength="9.77" lengthAdjust="spacingAndGlyphs">)</tspan></text>
<text class="ti" transform="translate(44.1 0) rotate(-90)" x="-680" y="0">Internal  spectral  <tspan x="-447.9" y="0" letter-spacing="-0.18">absorbance</tspan><tspan x="-295.5" y="0">  </tspan><tspan x="-279.7" y="0">A</tspan><tspan class="ss" x="-261.4" y="8.3">λ</tspan><tspan class="ss" x="-261" y="-14.2">int</tspan><tspan x="-236.7" y="3.57" font-size="42.03" textLength="8.97" lengthAdjust="spacingAndGlyphs">/</tspan><tspan x="-225" y="0">A</tspan><tspan class="ss" letter-spacing="0.3" x="-206.5" y="8.3">λ=max</tspan><tspan class="ss" x="-206" y="-14.2">int</tspan><tspan x="-143.5" y="0">  </tspan><tspan x="-126.8" y="-1.1" font-size="34.61" textLength="9.77" lengthAdjust="spacingAndGlyphs">(</tspan><tspan x="-117.23" y="0">rel.</tspan><tspan x="-74.89" y="-1.1" font-size="34.61" textLength="9.77" lengthAdjust="spacingAndGlyphs">)</tspan></text>
<text class="ti" letter-spacing="-0.17" x="1081" y="328.6">spct.idx</text>
<g fill="none" stroke="#000" stroke-width="2.85">
<line x1="1089.8" x2="1166.7" y1="369.9" y2="369.9"/>
<line x1="1089.8" x2="1166.7" y1="416.0" y2="416.0" stroke-dasharray="5.69 5.69"/>
</g>
<text class="lg" letter-spacing="-0.12" x="1191.3" y="378.5">Chl_a_DME</text>
<text class="lg" letter-spacing="-0.12" x="1191.3" y="424.6">Chl_a_MethOH</text>
</svg>
</body></html>
